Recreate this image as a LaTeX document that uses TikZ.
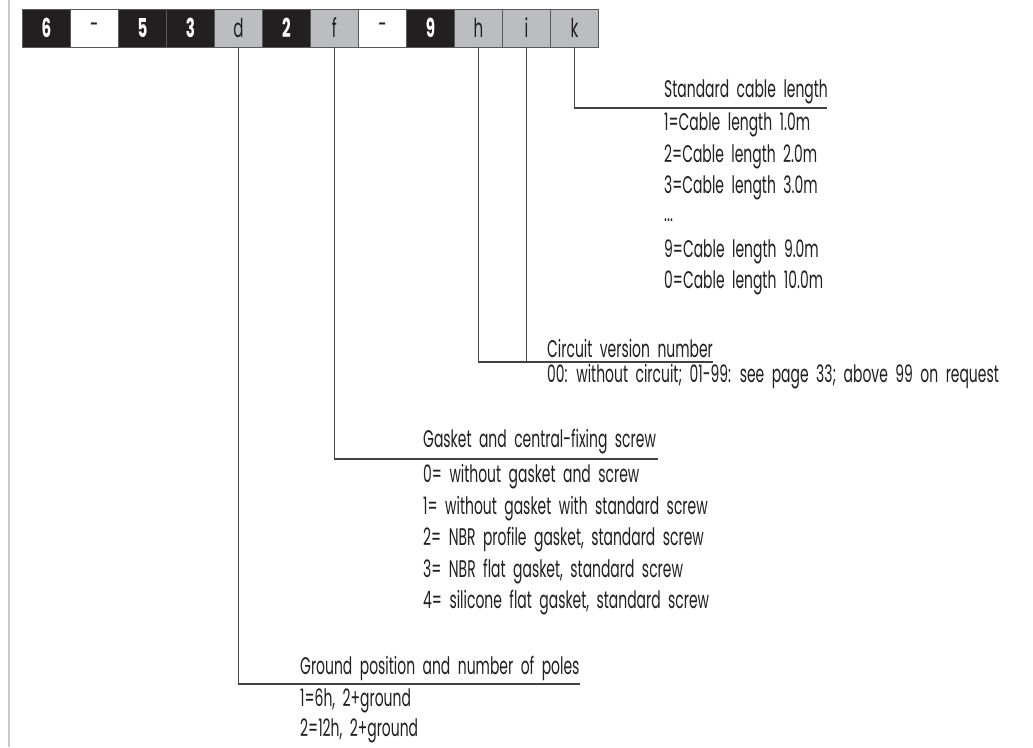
\documentclass[tikz,border=0pt]{standalone}
\usepackage{fontspec}
\setmainfont[FakeStretch=0.58]{Poppins}
\definecolor{ink}{HTML}{231F20}
\definecolor{cellgray}{HTML}{BCBDC0}
\definecolor{edge}{HTML}{58595B}
\definecolor{rulegray}{HTML}{C8C9CB}
\newcommand\mylblfont{\fontsize{24}{28}\selectfont\spaceskip 7.5pt plus 1pt minus 1pt\relax}
\tikzset{
  cell/.style={draw=edge, line width=0.8pt, minimum width=48pt, minimum height=38pt, inner sep=0pt, anchor=west,
    font=\fontsize{26}{28}\selectfont},
  blk/.style={cell, fill=ink, text=white, font=\fontsize{26}{28}\selectfont\bfseries},
  wht/.style={cell, fill=white, text=ink},
  gry/.style={cell, fill=cellgray, text=ink},
  lbl/.style={anchor=west, inner sep=0pt, text=ink, font=\mylblfont},
  conn/.style={draw=ink!85, line width=1.4pt}
}
\begin{document}
\begin{tikzpicture}[x=1pt,y=-1pt]
\useasboundingbox (0,0) rectangle (1033,747);
\fill[white] (0,0) rectangle (1033,747);
\draw[rulegray, line width=2.5pt] (9,0) -- (9,747);
% bar
\node[blk] (c1) at (22,28) {6};
\node[wht] (c2) at (70,28) {-};
\node[blk] (c3) at (118,28) {5};
\node[blk] (c4) at (166,28) {3};
\node[gry] (c5) at (214,28) {d};
\node[blk] (c6) at (262,28) {2};
\node[gry] (c7) at (310,28) {f};
\node[wht] (c8) at (358,28) {-};
\node[blk] (c9) at (406,28) {9};
\node[gry] (c10) at (454,28) {h};
\node[gry] (c11) at (502,28) {i};
\node[gry] (c12) at (550,28) {k};
% k
\coordinate (kend) at (827,108);
\draw[conn] (c12.south) |- (kend);
\node[lbl] (k0) at (664,92) {Standard cable length};
\node[lbl] (k1) at (664,125) {1=Cable length 1.0m};
\node[lbl] (k2) at (664,157) {2=Cable length 2.0m};
\node[lbl] (k3) at (664,188) {3=Cable length 3.0m};
\node[lbl] (k4) at (664,220) {...};
\node[lbl] (k5) at (664,252) {9=Cable length 9.0m};
\node[lbl] (k6) at (664,283) {0=Cable length 10.0m};
% h i
\coordinate (hend) at (713,362);
\draw[conn] (c10.south) |- (hend);
\draw[conn] (c11.south) -- (c11.south |- hend);
\node[lbl] (h0) at (547,348) {Circuit version number};
\node[lbl] (h1) at (547,377) {00: without circuit; 01-99: see page 33; above 99 on request};
% f
\coordinate (fend) at (658,459);
\draw[conn] (c7.south) |- (fend);
\node[lbl] (f0) at (423,442) {Gasket and central-fixing screw};
\node[lbl] (f1) at (423,477) {0= without gasket and screw};
\node[lbl] (f2) at (423,509) {1= without gasket with standard screw};
\node[lbl] (f3) at (423,540) {2= NBR profile gasket, standard screw};
\node[lbl] (f4) at (423,572) {3= NBR flat gasket, standard screw};
\node[lbl] (f5) at (423,603) {4= silicone flat gasket, standard screw};
% d
\coordinate (dend) at (580,684);
\draw[conn] (c5.south) |- (dend);
\node[lbl] (d0) at (300,668) {Ground position and number of poles};
\node[lbl] (d1) at (300,701) {1=6h, 2+ground};
\node[lbl] (d2) at (300,731) {2=12h, 2+ground};
\end{tikzpicture}
\end{document}
